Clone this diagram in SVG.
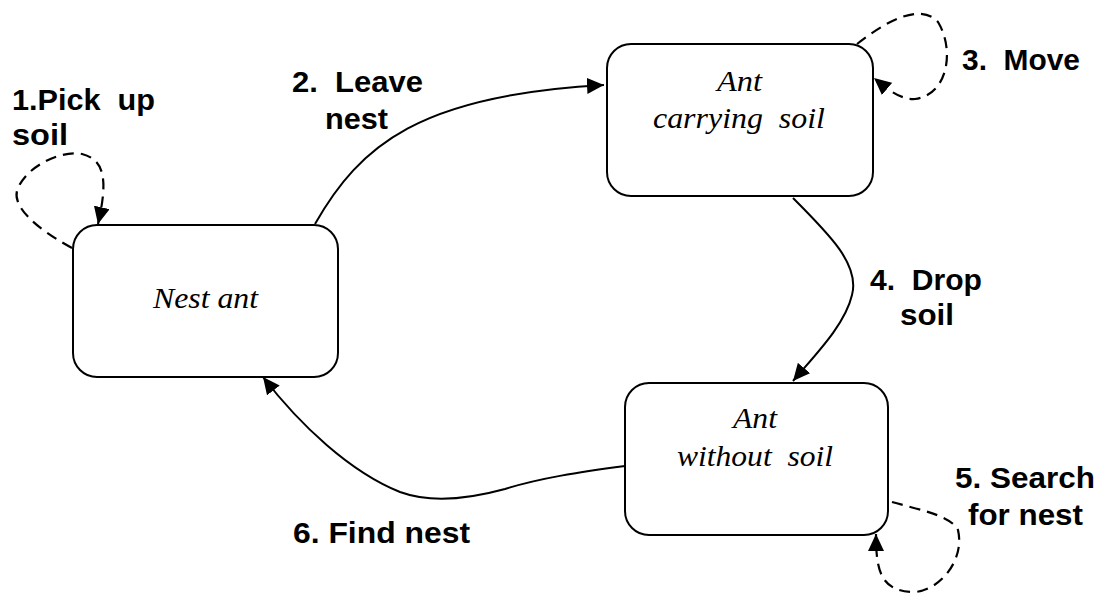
<svg xmlns="http://www.w3.org/2000/svg" width="1102" height="598" viewBox="0 0 1102 598">
<defs>
<style>
.box{fill:#fff;stroke:#000;stroke-width:2}
.st{font-family:"Liberation Serif","Times New Roman",serif;font-style:italic;font-size:30px;fill:#000}
.lb{font-family:"Liberation Sans",Arial,sans-serif;font-weight:bold;font-size:29px;fill:#000}
.ln{fill:none;stroke:#000;stroke-width:2}
.dl{fill:none;stroke:#000;stroke-width:2.2;stroke-dasharray:11 7}
</style>
<marker id="ah" markerUnits="userSpaceOnUse" markerWidth="20" markerHeight="16" refX="17" refY="8" orient="auto">
<path d="M0,0 L17,8 L0,16 Z" fill="#000"/>
</marker>
</defs>
<rect width="1102" height="598" fill="#fff"/>
<g id="connectors">
<path class="ln" d="M315,224 C360,145 420,95 604,85" marker-end="url(#ah)"/>
<path class="ln" d="M793,198 C830,235 860,265 852,295 C845,325 815,355 793,381" marker-end="url(#ah)"/>
<path class="ln" d="M625,466 C580,472 540,478 505,489 C465,500 430,503 400,492 C350,472 300,425 263,377" marker-end="url(#ah)"/>
<path class="dl" d="M72,248 C35,228 10,205 18,188 C28,165 62,150 82,154 C105,160 108,180 98,224" marker-end="url(#ah)"/>
<path class="dl" d="M857,44 C885,22 920,2 938,22 C955,50 948,95 915,99 C900,100 886,88 874,78" marker-end="url(#ah)"/>
<path class="dl" d="M892,502 C920,510 950,515 958,530 C965,560 940,590 915,592 C880,592 876,570 876,534" marker-end="url(#ah)"/>
</g>
<g id="nest-ant">
<rect class="box" x="73" y="225" width="265" height="152" rx="24"/>
<text class="st" x="153" y="308" textLength="105" lengthAdjust="spacingAndGlyphs">Nest ant</text>
</g>
<g id="ant-carrying-soil">
<rect class="box" x="607" y="44" width="266" height="152" rx="24"/>
<text class="st" x="717" y="91" textLength="45" lengthAdjust="spacingAndGlyphs">Ant</text>
<text class="st" x="653" y="128" textLength="172" lengthAdjust="spacingAndGlyphs" xml:space="preserve">carrying  soil</text>
</g>
<g id="ant-without-soil">
<rect class="box" x="625" y="383" width="263" height="152" rx="24"/>
<text class="st" x="733" y="428" textLength="44" lengthAdjust="spacingAndGlyphs">Ant</text>
<text class="st" x="677" y="466" textLength="156" lengthAdjust="spacingAndGlyphs" xml:space="preserve">without  soil</text>
</g>
<g id="labels">
<text class="lb" x="12" y="110" textLength="143" lengthAdjust="spacingAndGlyphs" xml:space="preserve">1.Pick  up</text>
<text class="lb" x="12" y="145" textLength="56" lengthAdjust="spacingAndGlyphs">soil</text>
<text class="lb" x="292" y="92" textLength="131" lengthAdjust="spacingAndGlyphs" xml:space="preserve">2.  Leave</text>
<text class="lb" x="325" y="129" textLength="63" lengthAdjust="spacingAndGlyphs">nest</text>
<text class="lb" x="962" y="70" textLength="118" lengthAdjust="spacingAndGlyphs" xml:space="preserve">3.  Move</text>
<text class="lb" x="870" y="290" textLength="112" lengthAdjust="spacingAndGlyphs" xml:space="preserve">4.  Drop</text>
<text class="lb" x="900" y="325" textLength="54" lengthAdjust="spacingAndGlyphs">soil</text>
<text class="lb" x="955" y="488" textLength="140" lengthAdjust="spacingAndGlyphs">5. Search</text>
<text class="lb" x="968" y="525" textLength="115" lengthAdjust="spacingAndGlyphs">for nest</text>
<text class="lb" x="293" y="543" textLength="177" lengthAdjust="spacingAndGlyphs">6. Find nest</text>
</g>
</svg>
